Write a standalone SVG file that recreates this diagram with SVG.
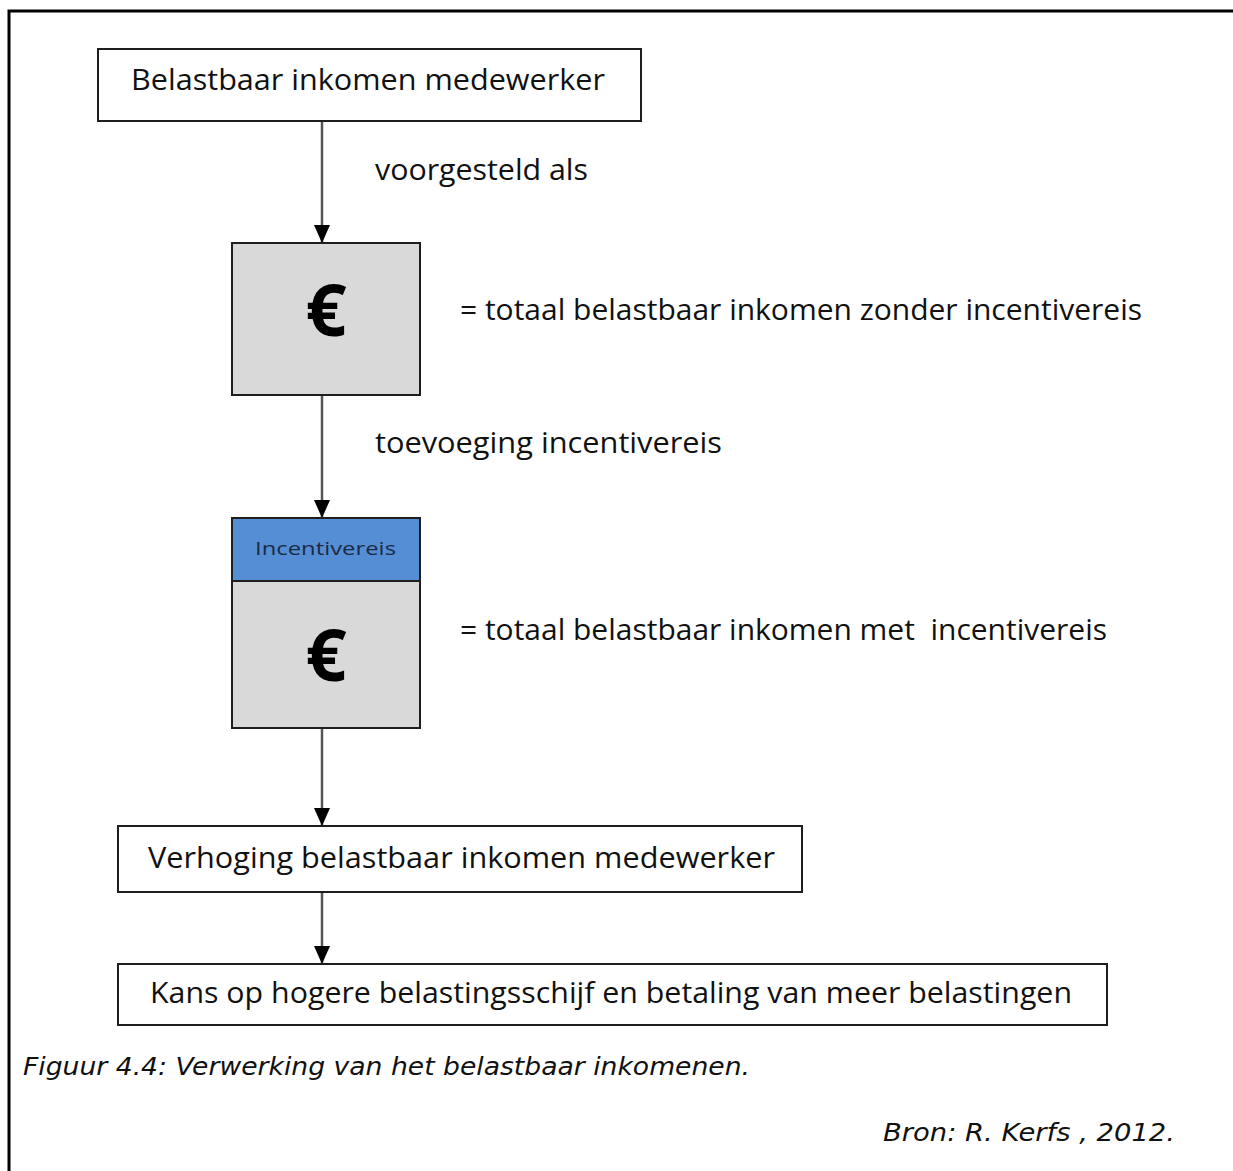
<svg xmlns="http://www.w3.org/2000/svg" width="1233" height="1171" viewBox="0 0 1233 1171">
  <defs>
    <marker id="arrow" viewBox="0 0 18 16" refX="18" refY="8" markerWidth="18" markerHeight="16" markerUnits="userSpaceOnUse" orient="auto">
      <path d="M0,0 L18,8 L0,16 Z" fill="#000"/>
    </marker>
    <style>
      .box { fill: #ffffff; stroke: #1e1e1e; stroke-width: 2; }
      .grey { fill: #d9d9d9; stroke: #1e1e1e; stroke-width: 2; }
      .blue { fill: #558ed5; stroke: #1e1e1e; stroke-width: 2; }
      .lbl { font-family: "Open Sans", "Noto Sans", sans-serif; font-size: 30px; fill: #111; }
      .euro { font-family: "Open Sans", "DejaVu Sans", sans-serif; font-size: 72px; font-weight: bold; fill: #000; text-anchor: middle; }
      .small { font-family: "Open Sans", "Noto Sans", sans-serif; font-size: 19px; fill: #1a2a44; }
      .cap { font-family: "DejaVu Sans", "Liberation Sans", sans-serif; font-size: 25px; font-style: italic; fill: #111; }
      .conn { stroke: #555; stroke-width: 2.5; fill: none; marker-end: url(#arrow); }
    </style>
  </defs>

  <rect width="1233" height="1171" fill="#ffffff"/>

  <!-- open frame: top and left edges -->
  <path d="M9,1171 V11 H1233" fill="none" stroke="#000" stroke-width="3"/>

  <!-- connectors -->
  <g id="connectors">
    <line class="conn" x1="322" y1="121" x2="322" y2="243"/>
    <line class="conn" x1="322" y1="395" x2="322" y2="518"/>
    <line class="conn" x1="322" y1="728" x2="322" y2="826"/>
    <line class="conn" x1="322" y1="892" x2="322" y2="964"/>
  </g>

  <g id="node-inkomen">
    <rect class="box" x="98" y="49" width="543" height="72"/>
    <text class="lbl" x="131" y="90" textLength="474" lengthAdjust="spacingAndGlyphs">Belastbaar inkomen medewerker</text>
  </g>

  <g id="label-voorgesteld">
    <text class="lbl" x="375" y="180" textLength="213" lengthAdjust="spacingAndGlyphs">voorgesteld als</text>
  </g>

  <g id="node-euro">
    <rect class="grey" x="232" y="243" width="188" height="152"/>
    <text class="euro" x="326" y="336">€</text>
  </g>

  <g id="label-zonder">
    <text class="lbl" x="460" y="320" textLength="682" lengthAdjust="spacingAndGlyphs">= totaal belastbaar inkomen zonder incentivereis</text>
  </g>

  <g id="label-toevoeging">
    <text class="lbl" x="375" y="453" textLength="347" lengthAdjust="spacingAndGlyphs">toevoeging incentivereis</text>
  </g>

  <g id="node-euro-incentive">
    <rect class="grey" x="232" y="518" width="188" height="210"/>
    <rect class="blue" x="232" y="518" width="188" height="63"/>
    <text class="small" x="255" y="555" textLength="141" lengthAdjust="spacingAndGlyphs">Incentivereis</text>
    <text class="euro" x="326" y="681">€</text>
  </g>

  <g id="label-met">
    <text class="lbl" x="460" y="640" textLength="647" lengthAdjust="spacingAndGlyphs" xml:space="preserve">= totaal belastbaar inkomen met  incentivereis</text>
  </g>

  <g id="node-verhoging">
    <rect class="box" x="118" y="826" width="684" height="66"/>
    <text class="lbl" x="148" y="868" textLength="627" lengthAdjust="spacingAndGlyphs">Verhoging belastbaar inkomen medewerker</text>
  </g>

  <g id="node-kans">
    <rect class="box" x="118" y="964" width="989" height="61"/>
    <text class="lbl" x="150" y="1003" textLength="922" lengthAdjust="spacingAndGlyphs">Kans op hogere belastingsschijf en betaling van meer belastingen</text>
  </g>

  <g id="caption">
    <text class="cap" x="23" y="1075" textLength="727" lengthAdjust="spacingAndGlyphs">Figuur 4.4: Verwerking van het belastbaar inkomenen.</text>
    <text class="cap" x="883" y="1141" textLength="292" lengthAdjust="spacingAndGlyphs">Bron: R. Kerfs , 2012.</text>
  </g>
</svg>
